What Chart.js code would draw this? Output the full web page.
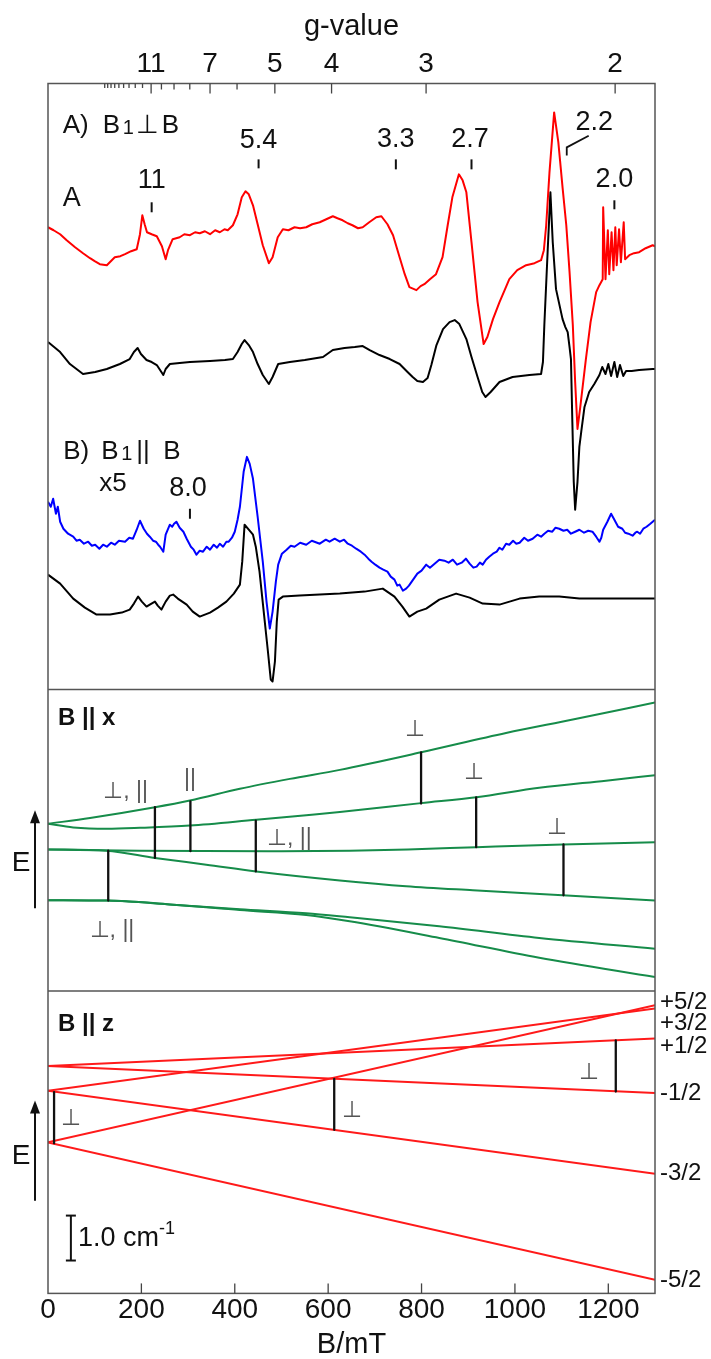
<!DOCTYPE html>
<html>
<head>
<meta charset="utf-8">
<script src="https://cdn.jsdelivr.net/npm/chart.js@4.4.1/dist/chart.umd.min.js"></script>
<style>
  html, body { margin: 0; padding: 0; background: #fff; }
  #wrap { width: 711px; height: 1359px; }
</style>
</head>
<body>
<div id="wrap"><canvas id="chart" width="711" height="1359"></canvas></div>
<script>
// ---- data ----
// microwave frequency (GHz) used for the g-value axis
const freq = 34.0;
const gMajor = [11, 7, 5, 4, 3, 2];
const gMinor = [10, 9, 8, 6];
const gFine = [20, 19, 18, 17, 16, 15, 14, 13, 12];

// EPR spectra, [B (mT), intensity (arb. units, stacked)]
const specA_red = [[0,463],[12,460],[26,456],[40,450],[58,443],[75,437],[90,432],[100,429],[111,426],[126,425],[143,433],[155,434],[165,436],[178,439],[190,441],[197,456],[202,475],[207,466],[212,458],[222,456],[233,454],[244,444],[252,431],[257,440],[267,451],[282,453],[292,456],[304,455],[315,458],[325,457],[336,459],[347,456],[358,460],[368,458],[378,461],[385,460],[396,465],[406,476],[415,493],[423,499],[430,496],[439,485],[449,466],[460,445],[473,427],[481,433],[492,453],[503,461],[515,460],[528,463],[540,462],[553,463],[566,466],[582,468],[596,471],[610,474],[620,472],[631,470],[642,467],[652,465],[664,462],[674,463],[688,468],[703,473],[714,474],[727,466],[739,455],[753,433],[764,416],[774,403],[789,400],[798,404],[806,406],[818,411],[831,416],[845,433],[856,465],[866,493],[880,516],[888,510],[896,498],[907,448],[920,388],[933,346],[941,353],[953,371],[967,388],[978,400],[988,411],[1005,420],[1024,425],[1042,427],[1056,430],[1062,440],[1067,465],[1074,518],[1084,578],[1093,548],[1102,503],[1110,465],[1117,418],[1124,365],[1129,308],[1134,261],[1140,283],[1152,331],[1162,368],[1174,398],[1181,405],[1188,411],[1189,483],[1194,411],[1199,460],[1202,416],[1207,458],[1211,420],[1215,463],[1218,425],[1223,461],[1227,428],[1233,468],[1236,431],[1245,435],[1255,437],[1266,438],[1280,442],[1295,445],[1300,444]];
const specA_black = [[0,348],[26,338],[47,326],[75,316],[101,318],[126,321],[154,326],[175,331],[184,338],[192,342],[199,336],[211,330],[222,328],[233,325],[240,320],[247,315],[252,321],[261,326],[282,327],[304,328],[347,329],[379,330],[396,331],[406,338],[415,346],[421,350],[430,345],[439,338],[449,326],[460,315],[473,306],[481,313],[493,326],[518,328],[550,330],[589,333],[610,340],[635,342],[657,343],[674,344],[689,340],[710,335],[732,331],[753,326],[770,318],[781,313],[791,309],[803,308],[813,312],[821,325],[832,345],[846,361],[860,368],[871,370],[881,366],[896,351],[907,333],[920,313],[930,298],[937,293],[948,298],[967,308],[995,313],[1031,315],[1056,316],[1060,328],[1063,365],[1070,438],[1076,498],[1081,448],[1088,401],[1095,386],[1102,371],[1108,363],[1113,358],[1117,343],[1120,331],[1123,268],[1126,208],[1129,180],[1134,208],[1138,243],[1142,258],[1149,283],[1159,298],[1170,306],[1181,315],[1187,323],[1194,316],[1200,326],[1206,314],[1213,328],[1219,313],[1225,325],[1232,314],[1238,319],[1250,319],[1266,320],[1295,321],[1300,321]];
const specB_blue = [[0,188],[6,183],[11,191],[17,176],[21,183],[26,168],[33,161],[43,156],[54,153],[61,149],[68,150],[77,146],[86,148],[94,144],[101,145],[110,141],[118,145],[126,143],[135,147],[143,145],[152,149],[165,148],[174,152],[182,151],[190,160],[197,169],[205,161],[212,156],[218,153],[225,149],[231,148],[236,145],[240,143],[247,138],[252,155],[261,165],[266,163],[270,166],[275,168],[282,162],[290,158],[297,151],[306,143],[312,140],[318,135],[325,139],[332,138],[340,143],[347,140],[355,145],[362,142],[368,146],[375,143],[382,148],[387,148],[394,152],[400,158],[406,170],[411,183],[419,218],[426,233],[432,226],[439,211],[449,173],[460,128],[468,88],[475,61],[481,78],[488,108],[493,125],[501,136],[511,140],[520,144],[528,143],[540,147],[553,145],[565,149],[582,146],[595,150],[603,148],[614,151],[625,148],[634,150],[642,146],[651,144],[660,141],[670,138],[678,135],[686,131],[693,128],[701,125],[710,122],[718,120],[727,118],[734,113],[742,110],[748,104],[753,105],[760,99],[767,101],[773,104],[779,108],[785,112],[791,116],[800,119],[810,125],[818,122],[828,126],[838,130],[849,129],[858,127],[867,130],[876,125],[886,127],[895,131],[903,126],[911,122],[918,123],[925,127],[931,125],[938,130],[945,133],[953,136],[961,138],[967,142],[973,140],[981,146],[988,145],[996,149],[1003,146],[1010,147],[1020,152],[1028,149],[1038,151],[1048,155],[1056,153],[1063,156],[1071,159],[1080,158],[1087,162],[1095,161],[1104,159],[1112,160],[1120,156],[1129,158],[1138,160],[1148,157],[1157,159],[1166,158],[1174,153],[1181,148],[1185,152],[1189,160],[1198,168],[1206,176],[1213,170],[1221,163],[1230,161],[1236,157],[1243,156],[1252,154],[1258,157],[1262,158],[1268,156],[1275,161],[1282,163],[1290,166],[1295,168],[1300,170]];
const specB_black = [[0,115],[26,106],[54,91],[79,82],[104,75],[133,75],[158,77],[175,80],[184,86],[193,93],[201,88],[211,83],[218,85],[229,88],[235,84],[243,80],[252,88],[261,94],[268,95],[278,91],[297,85],[310,78],[325,73],[347,77],[364,82],[382,88],[398,96],[411,105],[416,128],[421,165],[430,160],[439,155],[445,143],[453,118],[462,78],[471,38],[477,10],[481,8],[486,28],[490,68],[494,90],[503,93],[539,94],[582,95],[625,96],[678,98],[717,101],[742,93],[759,83],[774,73],[791,78],[810,81],[838,90],[874,96],[903,92],[931,86],[967,85],[1010,91],[1052,93],[1095,93],[1138,91],[1300,91]];

// energy levels, B || x : [B (mT), E (cm-1)]
const levelsX = [
  [[0,1.70],[90,1.83],[229,2.07],[304,2.22],[411,2.48],[518,2.70],[625,2.90],[799,3.29],[981,3.72],[1124,4.02],[1300,4.40]],
  [[0,1.70],[54,1.62],[126,1.59],[197,1.61],[304,1.66],[446,1.79],[553,1.89],[625,1.96],[799,2.16],[917,2.29],[1052,2.50],[1195,2.66],[1300,2.78]],
  [[0,1.13],[197,1.10],[500,1.09],[646,1.10],[771,1.13],[917,1.18],[1102,1.24],[1300,1.29]],
  [[0,1.13],[126,1.10],[229,0.94],[339,0.79],[446,0.64],[625,0.44],[767,0.31],[910,0.22],[1102,0.11],[1300,-0.01]],
  [[0,0.00],[126,-0.01],[268,-0.10],[411,-0.20],[553,-0.29],[646,-0.38],[838,-0.58],[1052,-0.84],[1300,-1.08]],
  [[0,0.00],[126,-0.01],[268,-0.10],[411,-0.22],[553,-0.33],[646,-0.47],[838,-0.84],[1052,-1.28],[1300,-1.71]]
];
// transitions B || x : [B, E upper, E lower]
const transX = [[129,1.10,-0.01],[229,2.07,0.94],[305,2.20,1.09],[445,1.77,0.64],[799,3.29,2.15],[917,2.29,1.18],[1104,1.24,0.11]];

// energy levels, B || z (straight lines)
const msLabels = ['+5/2', '+3/2', '+1/2', '-1/2', '-3/2', '-5/2'];
const levelsZ_B0 = [0.00, 1.15, 1.70, 1.70, 1.15, 0.00];
const levelsZ_B1300 = [3.05, 2.98, 2.31, 1.10, -0.70, -3.06];
const transZ = [[13,1.12,-0.02],[613,1.41,0.28],[1216,2.27,1.13]];

// ---- chart ----
const FONT = "'Liberation Sans', Arial, Helvetica, sans-serif";
Chart.defaults.font.family = FONT;
Chart.defaults.color = '#111';

const bOfG = g => 71.4477 * freq / g;
const pts = arr => arr.map(p => ({x: p[0], y: p[1]}));

const datasets = [];
datasets.push({data: pts(specA_red), borderColor: '#ff0000', yAxisID: 'yTop'});
datasets.push({data: pts(specB_blue), borderColor: '#0000ff', yAxisID: 'yTop'});
datasets.push({data: pts(specA_black), borderColor: '#000', yAxisID: 'yTop'});
datasets.push({data: pts(specB_black), borderColor: '#000', yAxisID: 'yTop'});
transX.forEach(t => datasets.push({data: [{x: t[0], y: t[1]}, {x: t[0], y: t[2]}], borderColor: '#111', borderWidth: 2.3, yAxisID: 'yMid'}));
levelsX.forEach(l => datasets.push({data: pts(l), borderColor: '#168c4a', cubicInterpolationMode: 'monotone', yAxisID: 'yMid'}));
transZ.forEach(t => datasets.push({data: [{x: t[0], y: t[1]}, {x: t[0], y: t[2]}], borderColor: '#111', borderWidth: 2.3, yAxisID: 'yBot'}));
msLabels.forEach((m, i) => datasets.push({data: [{x: 0, y: levelsZ_B0[i]}, {x: 1300, y: levelsZ_B1300[i]}], borderColor: '#ff1a1a', yAxisID: 'yBot'}));

const overlay = {
  id: 'overlay',
  afterDatasetsDraw(chart) {
    const {ctx, chartArea: a, scales: s} = chart;
    const X = v => s.x.getPixelForValue(v);
    const seg = (x1, y1, x2, y2) => { ctx.beginPath(); ctx.moveTo(x1, y1); ctx.lineTo(x2, y2); ctx.stroke(); };
    const txt = (str, x, y, size, opt = {}) => {
      ctx.font = (opt.bold ? 'bold ' : '') + size + 'px ' + FONT;
      ctx.fillStyle = opt.color || '#111';
      ctx.textAlign = opt.align || 'center';
      ctx.textBaseline = 'middle';
      ctx.fillText(str, x, y);
    };
    ctx.save();

    // frames
    ctx.strokeStyle = '#555';
    ctx.lineWidth = 1.5;
    ctx.strokeRect(a.left, a.top, a.right - a.left, a.bottom - a.top);
    seg(a.left, s.yMid.top, a.right, s.yMid.top);
    seg(a.left, s.yBot.top, a.right, s.yBot.top);

    // inward ticks
    ctx.strokeStyle = '#444';
    ctx.lineWidth = 1.3;
    s.x.ticks.forEach(t => { if (t.value > 0) seg(X(t.value), a.bottom, X(t.value), a.bottom - 10); });
    gMajor.forEach(g => seg(X(bOfG(g)), a.top, X(bOfG(g)), a.top + 10));
    gMinor.forEach(g => seg(X(bOfG(g)), a.top, X(bOfG(g)), a.top + 6));
    gFine.forEach(g => seg(X(bOfG(g)), a.top, X(bOfG(g)), a.top + 4.5));

    // --- top panel annotations ---
    const yT = v => s.yTop.getPixelForValue(v);
    ctx.strokeStyle = '#111';
    ctx.lineWidth = 2;
    [[222, 488, 478], [451, 531, 522], [745, 531, 521], [907, 531, 521], [1213, 490, 481], [304, 181, 171]]
      .forEach(m => seg(X(m[0]), yT(m[1]), X(m[0]), yT(m[2])));
    ctx.lineWidth = 1.8;
    ctx.beginPath();
    ctx.moveTo(X(1111), yT(535)); ctx.lineTo(X(1111), yT(543)); ctx.lineTo(X(1158), yT(554.7));
    ctx.stroke();
    [['11', 222, 510], ['5.4', 451, 550], ['3.3', 745, 551], ['2.7', 904, 551], ['2.2', 1170, 568], ['2.0', 1213, 511], ['8.0', 300, 201]]
      .forEach(l => txt(l[0], X(l[1]), yT(l[2]), 27));
    // panel titles with subscript
    const rich = (x0, yc, parts) => {
      ctx.fillStyle = '#111'; ctx.textAlign = 'left'; ctx.textBaseline = 'middle';
      parts.forEach(p => { ctx.font = p[2] + 'px ' + FONT; ctx.fillText(p[0], x0 + p[1], yc + (p[3] || 0)); });
    };
    rich(X(31.4), yT(565), [['A)', 0, 26], ['B', 40, 26], ['1', 60, 20, 3], ['\u22A5', 73, 26], ['B', 99, 26]]);
    rich(X(32.7), yT(238), [['B)', 0, 26], ['B', 38, 26], ['1', 58, 20, 3], ['||', 73, 26], ['B', 100, 26]]);
    txt('A', X(31.4), yT(492), 27, {align: 'left'});
    txt('x5', X(139), yT(206), 26);

    // --- middle panel ---
    const yM = v => s.yMid.getPixelForValue(v);
    txt('B || x', X(21.4), yM(4.05), 24, {bold: true, align: 'left'});
    [['\u22A5, ||', 166, 2.42], ['||', 304, 2.69], ['\u22A5, ||', 517, 1.38], ['\u22A5, ||', 137, -0.67],
     ['\u22A5', 787, 3.79], ['\u22A5', 912, 2.83], ['\u22A5', 1091, 1.62]]
      .forEach(l => txt(l[0], X(l[1]), yM(l[2]), 23, {color: '#555'}));

    // --- bottom panel ---
    const yB = v => s.yBot.getPixelForValue(v);
    txt('B || z', X(21.4), yB(2.63), 24, {bold: true, align: 'left'});
    [['\u22A5', 49, 0.52], ['\u22A5', 650, 0.70], ['\u22A5', 1159, 1.56]]
      .forEach(l => txt(l[0], X(l[1]), yB(l[2]), 23, {color: '#555'}));
    [3.11, 2.64, 2.13, 1.08, -0.70, -3.07].forEach((e, i) => txt(msLabels[i], a.right + 5, yB(e), 24, {align: 'left'}));
    // scale bar 1.0 cm-1
    ctx.strokeStyle = '#111'; ctx.lineWidth = 2;
    const sbx = X(49);
    seg(sbx, yB(-1.63), sbx, yB(-2.63));
    seg(sbx - 5, yB(-1.63), sbx + 5, yB(-1.63));
    seg(sbx - 5, yB(-2.63), sbx + 5, yB(-2.63));
    txt('1.0 cm', sbx + 7, yB(-2.14), 27, {align: 'left'});
    ctx.font = '27px ' + FONT;
    const w = ctx.measureText('1.0 cm').width;
    txt('-1', sbx + 7 + w, yB(-2.14) - 9, 18, {align: 'left'});

    // energy arrows
    const arrow = (x, y1, y2) => {
      ctx.strokeStyle = '#111'; ctx.fillStyle = '#111'; ctx.lineWidth = 2;
      seg(x, y1, x, y2 + 10);
      ctx.beginPath(); ctx.moveTo(x, y2); ctx.lineTo(x - 5, y2 + 13); ctx.lineTo(x + 5, y2 + 13); ctx.closePath(); ctx.fill();
    };
    arrow(a.left - 13, yM(-0.18), yM(2.0));
    txt('E', a.left - 27, yM(0.83), 28);
    arrow(a.left - 13, yB(-1.30), yB(0.93));
    txt('E', a.left - 27, yB(-0.30), 28);

    ctx.restore();
  }
};

new Chart(document.getElementById('chart'), {
  type: 'line',
  data: {datasets},
  options: {
    responsive: false,
    animation: false,
    layout: {padding: {left: 48, right: 56, top: 0, bottom: 0}},
    plugins: {legend: {display: false}, tooltip: {enabled: false}},
    elements: {point: {radius: 0}, line: {tension: 0, borderWidth: 2, borderJoinStyle: 'round'}},
    scales: {
      x: {
        type: 'linear', position: 'bottom', min: 0, max: 1300,
        grid: {display: false, drawTicks: false}, border: {display: false},
        ticks: {stepSize: 200, includeBounds: false, autoSkip: false, maxRotation: 0, padding: 0, font: {size: 28}, color: '#111', callback: v => String(v)},
        title: {display: true, text: 'B/mT', font: {size: 29, lineHeight: 1}, padding: {top: 3, bottom: 0}, color: '#111'}
      },
      x2: {
        type: 'linear', position: 'top', min: 0, max: 1300,
        grid: {display: false, drawTicks: false}, border: {display: false},
        afterBuildTicks: sc => { sc.ticks = gMajor.map(g => ({value: bOfG(g)})); },
        ticks: {autoSkip: false, maxRotation: 0, padding: 2.5, font: {size: 28}, color: '#111', callback: (v, i) => String(gMajor[i])},
        title: {display: true, text: 'g-value', font: {size: 29}, padding: {top: 9.6, bottom: 0.5}, color: '#111'}
      },
      yTop: {axis: 'y', type: 'linear', position: 'right', display: false, stack: 'panels', stackWeight: 607, min: 0, max: 607},
      yMid: {axis: 'y', type: 'linear', position: 'right', display: false, stack: 'panels', stackWeight: 302, min: -2.02, max: 4.69},
      yBot: {axis: 'y', type: 'linear', position: 'right', display: false, stack: 'panels', stackWeight: 303, min: -3.362, max: 3.371}
    }
  },
  plugins: [overlay]
});
</script>
</body>
</html>
